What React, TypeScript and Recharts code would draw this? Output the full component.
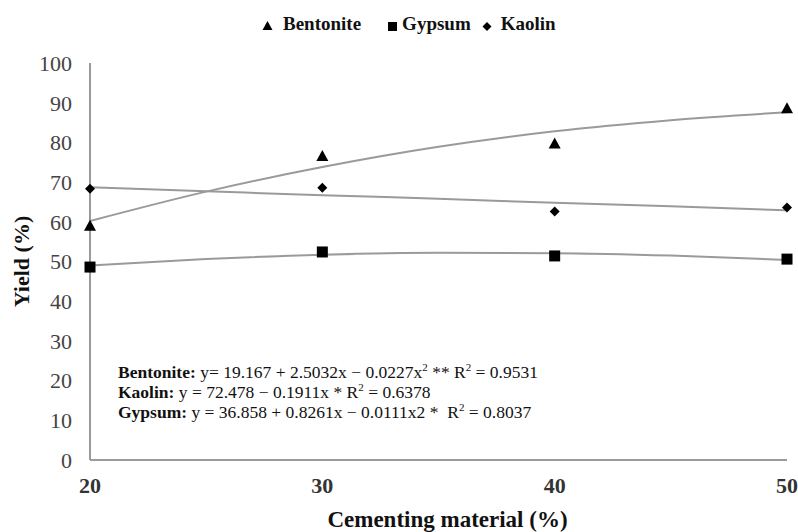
import React from 'react'
import { ComposedChart, Line, Scatter, XAxis, YAxis, Legend } from 'recharts';

const cement = [20, 30, 40, 50];
const bentonite = [59, 76.6, 79.7, 88.6];
const gypsum = [48.6, 52.4, 51.4, 50.6];
const kaolin = [68.3, 68.6, 62.6, 63.6];

// trend curves
const fitX = [20, 25, 30, 35, 40, 45, 50];
const bentoniteFit = [60.2, 67.6, 73.8, 78.9, 82.8, 85.6, 87.6];
const gypsumFit = [49.0, 50.6, 51.7, 52.2, 52.1, 51.5, 50.4];
const kaolinFit = [68.7, 67.7, 66.7, 65.8, 64.8, 63.9, 62.9];

const yTicks = [0, 10, 20, 30, 40, 50, 60, 70, 80, 90, 100];
const xTicks = [20, 30, 40, 50];

const toPoints = (ys: number[]) => cement.map((x, i) => ({ x, y: ys[i] }));
const toFit = (ys: number[]) => fitX.map((x, i) => ({ x, y: ys[i] }));

const FONT = '"Liberation Serif", "Times New Roman", serif';
const LINE = '#9a9a9a';

const Triangle = ({ cx, cy }: any) => (
    <polygon points={`${cx},${cy - 6} ${cx - 6},${cy + 5} ${cx + 6},${cy + 5}`} fill="#000" />
);
const Square = ({ cx, cy }: any) => (
    <rect x={cx - 5.5} y={cy - 5.5} width={11} height={11} fill="#000" />
);
const Diamond = ({ cx, cy }: any) => (
    <polygon points={`${cx},${cy - 5} ${cx + 5},${cy} ${cx},${cy + 5} ${cx - 5},${cy}`} fill="#000" />
);

const LegendContent = () => (
    <div style={{ height: 20, lineHeight: '20px', fontFamily: FONT, fontWeight: 'bold', fontSize: 19, color: '#111', whiteSpace: 'nowrap' }}>
        <svg width={11} height={11} style={{ verticalAlign: 'middle' }}><polygon points="5.5,1 0.5,10 10.5,10" fill="#000" /></svg>
        <span style={{ marginLeft: 10, marginRight: 26 }}>Bentonite</span>
        <svg width={10} height={10} style={{ verticalAlign: 'middle' }}><rect x={1} y={1} width={9} height={9} fill="#000" /></svg>
        <span style={{ marginLeft: 5, marginRight: 11 }}>Gypsum</span>
        <svg width={10} height={10} style={{ verticalAlign: 'middle' }}><polygon points="5,1 9.5,5.5 5,10 0.5,5.5" fill="#000" /></svg>
        <span style={{ marginLeft: 9 }}>Kaolin</span>
    </div>
)

const sup = { fontSize: 11, lineHeight: 0 };

const App: React.FC = () => {
    return (
        <div style={{ position: 'relative', width: 798, height: 532, overflow: 'hidden', background: '#fff' }}>
            <style>{'body{margin:0;overflow:hidden}'}</style>
            <ComposedChart width={798} height={532} margin={{ top: 43, right: 11, bottom: 12, left: 20 }}>
                <XAxis type="number" dataKey="x" domain={[20, 50]} ticks={xTicks} tickLine={false} tickSize={0} tickMargin={17}
                    axisLine={{ stroke: LINE, strokeWidth: 2 }} height={60}
                    tick={{ fontFamily: FONT, fontSize: 22, fontWeight: 'bold', fill: '#333' }}
                    label={{ value: 'Cementing material (%)', position: 'insideBottom', offset: -7, dx: 9, style: { fontFamily: FONT, fontSize: 23, fontWeight: 'bold', fill: '#111' } }} />
                <YAxis type="number" domain={[0, 100]} ticks={yTicks} tickLine={false} tickSize={0} tickMargin={18}
                    axisLine={{ stroke: LINE, strokeWidth: 2 }} width={70}
                    tick={{ fontFamily: FONT, fontSize: 22, fill: '#444' }}
                    label={{ value: 'Yield (%)', angle: -90, position: 'insideLeft', offset: 1, style: { textAnchor: 'middle', fontFamily: FONT, fontSize: 22, fontWeight: 'bold', fill: '#111' } }} />
                <Legend verticalAlign="top" align="left" content={LegendContent} wrapperStyle={{ top: 14, left: 262, width: 320 }} />
                <Line data={toFit(bentoniteFit)} dataKey="y" type="monotone" stroke={LINE} strokeWidth={2} dot={false} isAnimationActive={false} legendType="none" />
                <Line data={toFit(gypsumFit)} dataKey="y" type="monotone" stroke={LINE} strokeWidth={2} dot={false} isAnimationActive={false} legendType="none" />
                <Line data={toFit(kaolinFit)} dataKey="y" type="monotone" stroke={LINE} strokeWidth={2} dot={false} isAnimationActive={false} legendType="none" />
                <Scatter name="Bentonite" data={toPoints(bentonite)} dataKey="y" shape={Triangle} isAnimationActive={false} />
                <Scatter name="Gypsum" data={toPoints(gypsum)} dataKey="y" shape={Square} isAnimationActive={false} />
                <Scatter name="Kaolin" data={toPoints(kaolin)} dataKey="y" shape={Diamond} isAnimationActive={false} />
            </ComposedChart>
            <div style={{ position: 'absolute', left: 118, top: 362, fontFamily: FONT, fontSize: 17.5, lineHeight: '20px', color: '#111', whiteSpace: 'nowrap' }}>
                <div><b>Bentonite:</b> y= 19.167 + 2.5032x − 0.0227x<sup style={sup}>2</sup> ** R<sup style={sup}>2</sup> = 0.9531</div>
                <div><b>Kaolin:</b> y = 72.478 − 0.1911x * R<sup style={sup}>2</sup> = 0.6378</div>
                <div><b>Gypsum:</b> y = 36.858 + 0.8261x − 0.0111x2 * &nbsp;R<sup style={sup}>2</sup> = 0.8037</div>
            </div>
        </div>
    )
}

export default App
